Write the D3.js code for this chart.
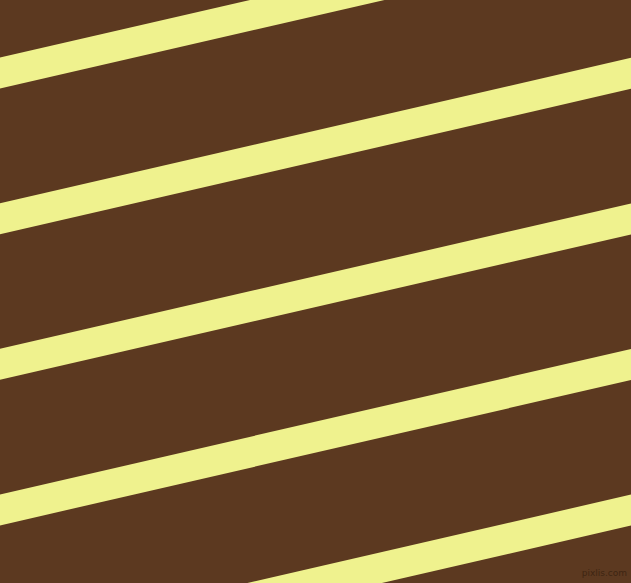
<!DOCTYPE html>
<html>
<head>
<meta charset="utf-8">
<script src="https://cdn.jsdelivr.net/npm/d3@7"></script>
<style>
  html, body { margin: 0; padding: 0; background: #5c3920; overflow: hidden; }
</style>
</head>
<body>
<div id="chart"></div>
<script>
// stripe top edge at left side (y at x=0), in picture units
let stripe_starts = [57.6, 203.2, 348.8, 494.4, 640.0];
// how far each stripe rises from left edge to right edge
let stripe_rise = [145.4, 145.4, 145.4, 145.4, 145.4];
let stripe_thickness = [31, 31, 31, 31, 31];
let watermark = ["pixlis.com"];

let dimensions = { width: 631, height: 583 };

let x = d3.scaleLinear().domain([0, 631]).range([0, dimensions.width]);
let y = d3.scaleLinear().domain([0, 583]).range([0, dimensions.height]);

let svg = d3.select("#chart").append("svg")
    .attr("width", dimensions.width)
    .attr("height", dimensions.height)
    .style("display", "block");

svg.append("rect")
    .attr("width", dimensions.width)
    .attr("height", dimensions.height)
    .style("fill", "#5c3920");

let stripes = stripe_starts.map(function (s, i) {
    return { start: s, rise: stripe_rise[i], thick: stripe_thickness[i] };
});

svg.selectAll("polygon.stripe")
    .data(stripes)
    .enter()
    .append("polygon")
    .attr("class", "stripe")
    .attr("points", function (d) {
        return [
            [x(0), y(d.start)],
            [x(631), y(d.start - d.rise)],
            [x(631), y(d.start - d.rise + d.thick)],
            [x(0), y(d.start + d.thick)]
        ].map(function (p) { return p.join(","); }).join(" ");
    })
    .style("fill", "#eff28e");

svg.selectAll("text.mark")
    .data(watermark)
    .enter()
    .append("text")
    .attr("class", "mark")
    .attr("x", x(627))
    .attr("y", y(576))
    .attr("text-anchor", "end")
    .attr("font-family", "DejaVu Sans")
    .attr("font-size", "9px")
    .style("fill", "#3e2512")
    .text(function (d) { return d; });
</script>
</body>
</html>
